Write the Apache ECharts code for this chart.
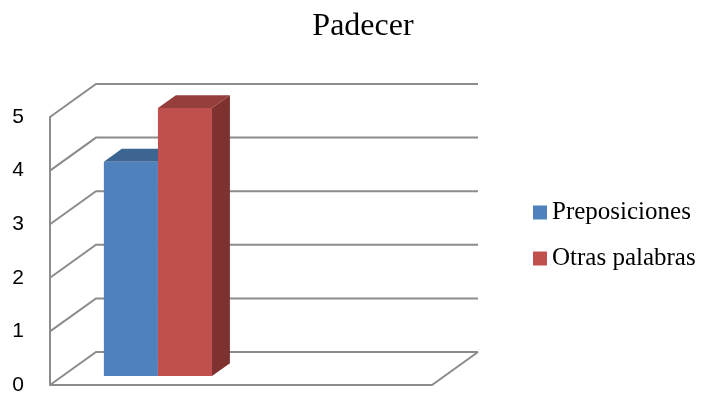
<!DOCTYPE html>
<html><head><meta charset="utf-8">
<script src="https://cdn.jsdelivr.net/npm/echarts@6/dist/echarts.min.js"></script>
<style>html,body{margin:0;padding:0;background:#fff}#c{width:704px;height:396px}</style>
</head><body><div id="c"></div>
<script>
const title = 'Padecer';
const categories = ['Padecer', ''];
const seriesNames = ['Preposiciones', 'Otras palabras'];
const preposiciones = [4];
const otrasPalabras = [5];
const yTicks = [0, 1, 2, 3, 4, 5];

const D = [46, -33];          // full depth of the 3D box
const BAR_SHIFT = 0.27;       // bar plane position in depth
const BAR_DEPTH = 0.39;       // bar depth fraction
const BAR_FRAC = 0.283;       // bar width / category band
const faces = [
  {front: '#4F81BD', top: '#3C6591', side: '#395E8B'},
  {front: '#C0504D', top: '#953E3B', side: '#7D3230'}
];

function barRender(idx) {
  return function (params, api) {
    const cat = api.value(0), v = api.value(1);
    const band = api.size([1, 0])[0];
    const w = band * BAR_FRAC;
    const c0 = api.coord([cat, 0]);
    const c1 = api.coord([cat, v]);
    const sx = D[0] * BAR_SHIFT, sy = D[1] * BAR_SHIFT;
    const dx = D[0] * BAR_DEPTH, dy = D[1] * BAR_DEPTH;
    const xl = c0[0] + sx + (idx === 0 ? -w : 0);
    const xr = xl + w;
    const yb = c0[1] + sy, yt = c1[1] + sy;
    const f = faces[idx];
    return {type: 'group', children: [
      {type: 'polygon', shape: {points: [[xr, yb], [xr + dx, yb + dy], [xr + dx, yt + dy], [xr, yt]]}, style: {fill: f.side}},
      {type: 'polygon', shape: {points: [[xl, yt], [xr, yt], [xr + dx, yt + dy], [xl + dx, yt + dy]]}, style: {fill: f.top}},
      {type: 'rect', shape: {x: xl, y: yt, width: w, height: yb - yt}, style: {fill: f.front}}
    ]};
  };
}

function wallRender(params, api) {
  const v = api.value(0);
  const a = api.coord([0, v]);
  const b = api.coord([1, v]);
  const st = {stroke: '#8C8C8C', lineWidth: 2, fill: null};
  const children = [
    {type: 'polyline', shape: {points: [[a[0], a[1]], [a[0] + D[0], a[1] + D[1]], [b[0] + D[0], b[1] + D[1]]]}, style: st}
  ];
  if (v === 0) {
    children.push({type: 'polyline', shape: {points: [[a[0], a[1]], [b[0], b[1]], [b[0] + D[0], b[1] + D[1]]]}, style: st});
  }
  return {type: 'group', children: children};
}

const chart = echarts.init(document.getElementById('c'), null, {renderer: 'canvas'});
chart.setOption({
  animation: false,
  backgroundColor: '#fff',
  title: {text: title, left: 358, textAlign: 'center', top: 6,
    textStyle: {fontFamily: 'Liberation Serif', fontWeight: 'normal', fontSize: 32, color: '#000'}},
  legend: {orient: 'vertical', left: 528, top: 195, itemWidth: 14, itemHeight: 14, itemGap: 21,
    icon: 'rect', data: seriesNames,
    textStyle: {fontFamily: 'Liberation Serif', fontSize: 25, color: '#000'}},
  grid: {left: 50, top: 117, width: 382, height: 268},
  xAxis: [
    {type: 'category', data: categories, axisLine: {show: false}, axisTick: {show: false}, axisLabel: {show: false}, splitLine: {show: false}},
    {type: 'value', min: 0, max: 1, show: false}
  ],
  yAxis: {type: 'value', min: 0, max: 5, interval: 1,
    axisLine: {show: true, lineStyle: {color: '#8C8C8C', width: 2}},
    axisTick: {show: false}, splitLine: {show: false},
    axisLabel: {margin: 26, fontFamily: 'Liberation Sans', fontSize: 21, color: '#000'}},
  series: [
    {type: 'custom', name: 'walls', xAxisIndex: 1, data: yTicks.map(t => [t]), renderItem: wallRender, silent: true, z: 1, encode: {x: -1, y: 0}},
    {type: 'custom', name: seriesNames[0], xAxisIndex: 0, data: preposiciones.map((v, i) => [i, v]), renderItem: barRender(0), itemStyle: {color: faces[0].front}, z: 2, encode: {x: 0, y: 1}},
    {type: 'custom', name: seriesNames[1], xAxisIndex: 0, data: otrasPalabras.map((v, i) => [i, v]), renderItem: barRender(1), itemStyle: {color: faces[1].front}, z: 3, encode: {x: 0, y: 1}}
  ]
});
</script></body></html>
